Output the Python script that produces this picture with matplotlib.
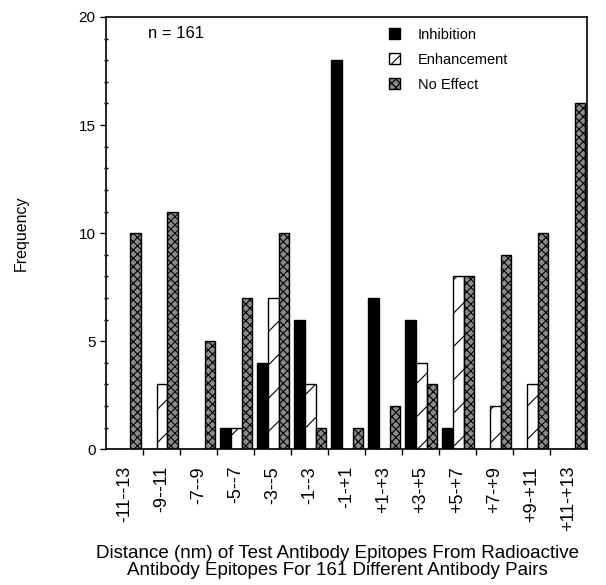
import matplotlib
matplotlib.use('Agg')
import matplotlib.pyplot as plt
import numpy as np
from matplotlib.ticker import MultipleLocator
from matplotlib.patches import Patch

plt.rcParams['font.family'] = ['Liberation Sans', 'DejaVu Sans']
plt.rcParams['hatch.linewidth'] = 0.8

# distance bins (nm)
bins = ['-11--13', '-9--11', '-7--9', '-5--7', '-3--5', '-1--3', '-1-+1',
        '+1-+3', '+3-+5', '+5-+7', '+7-+9', '+9-+11', '+11-+13']
inhibition = [0, 0, 0, 1, 4, 6, 18, 7, 6, 1, 0, 0, 0]
enhancement = [0, 3, 0, 1, 7, 3, 0, 0, 4, 8, 2, 3, 0]
no_effect = [10, 11, 5, 7, 10, 1, 1, 2, 3, 8, 9, 10, 16]

fig = plt.figure(figsize=(6.06, 5.85), dpi=100)
ax = fig.add_axes([0.175, 0.232, 0.794, 0.739])

x = np.arange(len(bins))
w = 0.29
ax.bar(x + 0.08, inhibition, w, align='edge', color='black', edgecolor='black',
       linewidth=1)
ax.bar(x + 0.08 + w, enhancement, w, align='edge', color='white', edgecolor='black',
       linewidth=1, hatch='/')
ax.bar(x + 0.08 + 2*w, no_effect, w, align='edge', color='#8a8a8a', edgecolor='black',
       linewidth=1, hatch='xxxx')

ax.set_xlim(0, len(bins))
ax.set_ylim(0, 20)

# ticks on group boundaries, labels centred on groups
ax.set_xticks(np.arange(1, len(bins)))
ax.set_xticklabels([])
ax.set_xticks(x + 0.5, minor=True)
ax.set_xticklabels(bins, minor=True, rotation=90, fontsize=13)
ax.tick_params(axis='x', which='major', direction='out', length=4, width=1)
ax.tick_params(axis='x', which='minor', length=0, pad=12)

ax.yaxis.set_major_locator(MultipleLocator(5))
ax.yaxis.set_minor_locator(MultipleLocator(1))
ax.tick_params(axis='y', which='major', direction='out', length=4, width=1, labelsize=11)
ax.tick_params(axis='y', which='minor', direction='inout', length=3, width=1)

for s in ax.spines.values():
    s.set_linewidth(1.2)

ax.set_ylabel('Frequency', fontsize=11.5, labelpad=36)
ax.set_xlabel('Distance (nm) of Test Antibody Epitopes From Radioactive\n'
              'Antibody Epitopes For 161 Different Antibody Pairs',
              fontsize=13.5, linespacing=0.95, labelpad=10)
ax.xaxis.label.set_x(0.48)

ax.text(0.088, 0.98, 'n = 161', transform=ax.transAxes, fontsize=12, va='top')
handles = [Patch(facecolor='black', edgecolor='black'),
           Patch(facecolor='white', edgecolor='black', hatch='///'),
           Patch(facecolor='#8a8a8a', edgecolor='black', hatch='xxxx')]
ax.legend(handles, ['Inhibition', 'Enhancement', 'No Effect'],
          loc='upper left', bbox_to_anchor=(0.56, 1.005), frameon=False,
          fontsize=10.5, handlelength=0.8, handleheight=0.8, handletextpad=1.2,
          labelspacing=0.75)

fig.savefig('out.png', dpi=100)
